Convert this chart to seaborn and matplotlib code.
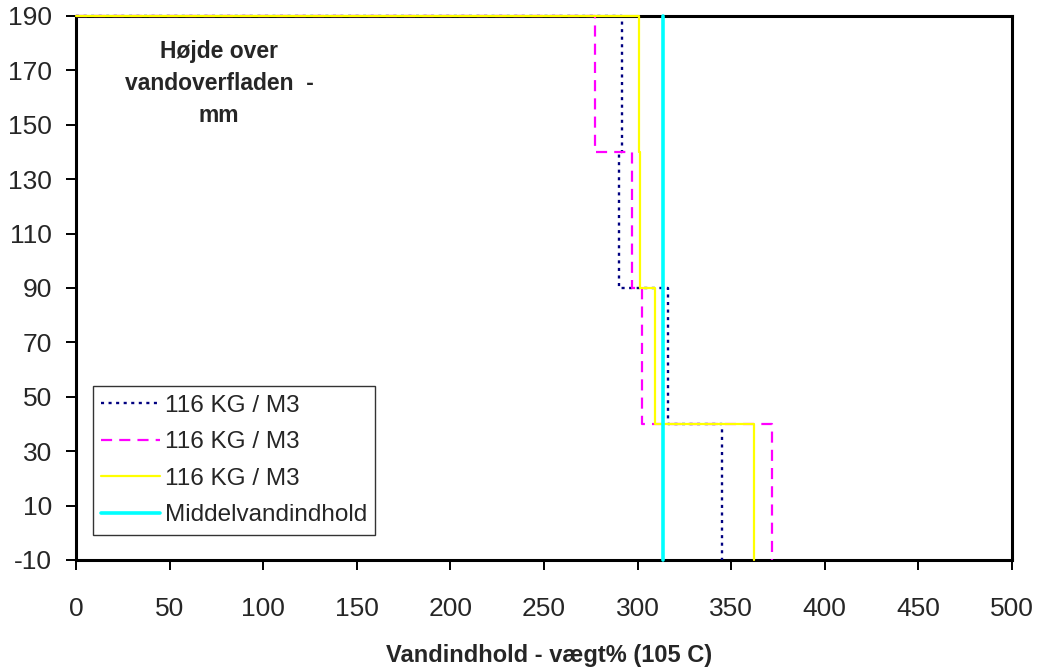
import numpy as np
import pandas as pd
import matplotlib
matplotlib.use("Agg")
import matplotlib.pyplot as plt
import seaborn as sns

# layer boundaries (height above water surface, mm)
heights = [190, 140, 90, 40, -10]

# water content per layer, three samples
blue_vals = [291.5, 290.0, 316.5, 345.0]
magenta_vals = [277.5, 297.0, 302.5, 372.0]
yellow_vals = [300.5, 301.5, 309.5, 362.0]
mean_val = 313.7

labels = ["116 KG / M3", "116 KG / M3", "116 KG / M3", "Middelvandindhold"]


def step_profile(vals):
    # vertices of a step profile starting at x=0 on the top line
    xs = [0]
    ys = [heights[0]]
    for i, v in enumerate(vals):
        xs += [v, v]
        ys += [heights[i], heights[i + 1]]
    return pd.DataFrame({"x": xs, "y": ys})


sns.set_style("white")
plt.rcParams["font.family"] = ["Liberation Sans", "DejaVu Sans"]
plt.rcParams["axes.unicode_minus"] = False

fig = plt.figure(figsize=(10.39, 6.72), dpi=100)
ax = fig.add_axes([0.0731, 0.1667, 0.9009, 0.8095])

sns.lineplot(data=step_profile(blue_vals), x="x", y="y", sort=False, estimator=None,
             color="#000080", lw=1.7, ax=ax, label=labels[0])
ax.lines[-1].set_dashes([1.3, 1.9])
sns.lineplot(data=step_profile(magenta_vals), x="x", y="y", sort=False, estimator=None,
             color="#ff00ff", lw=1.6, ax=ax, label=labels[1])
ax.lines[-1].set_dashes([5, 3.2])
sns.lineplot(data=step_profile(yellow_vals), x="x", y="y", sort=False, estimator=None,
             color="#ffff00", lw=1.6, ax=ax, label=labels[2])
sns.lineplot(x=[mean_val, mean_val], y=[heights[-1], heights[0]], sort=False, estimator=None,
             color="#00ffff", lw=2.6, ax=ax, label=labels[3])
for ln in ax.lines:
    ln.set_clip_on(False)
    ln.set_zorder(3)

ax.set_xlim(0, 500)
ax.set_ylim(-10, 190)
ax.set_xticks(np.arange(0, 501, 50))
ax.set_yticks(np.arange(-10, 191, 20))
ax.tick_params(axis="both", labelsize=19, direction="out", length=7, width=1.4,
               bottom=True, left=True, color="black")
ax.tick_params(axis="x", pad=20)
ax.tick_params(axis="y", pad=10)
for s in ax.spines.values():
    s.set_color("black")
    s.set_linewidth(2.2)

ax.set_xlabel("Vandindhold - vægt% (105 C)", fontsize=17, fontweight="bold")
ax.xaxis.set_label_coords(0.505, -0.175)
ax.xaxis.label.set_va("center")
ax.set_ylabel("")

ax.text(0.153, 0.956, "Højde over\nvandoverfladen  -\nmm", transform=ax.transAxes,
        ha="center", va="top", fontsize=16.5, fontweight="bold", linespacing=1.5)

leg = ax.legend(loc="lower left", bbox_to_anchor=(0.018, 0.046), fontsize=17.5,
                frameon=True, fancybox=False, shadow=False, handlelength=2.4,
                handletextpad=0.2, borderpad=0.35, labelspacing=0.6, borderaxespad=0)
leg.get_frame().set_edgecolor("black")
leg.get_frame().set_linewidth(1)
leg.set_zorder(5)

fig.savefig("out.png", dpi=100)
